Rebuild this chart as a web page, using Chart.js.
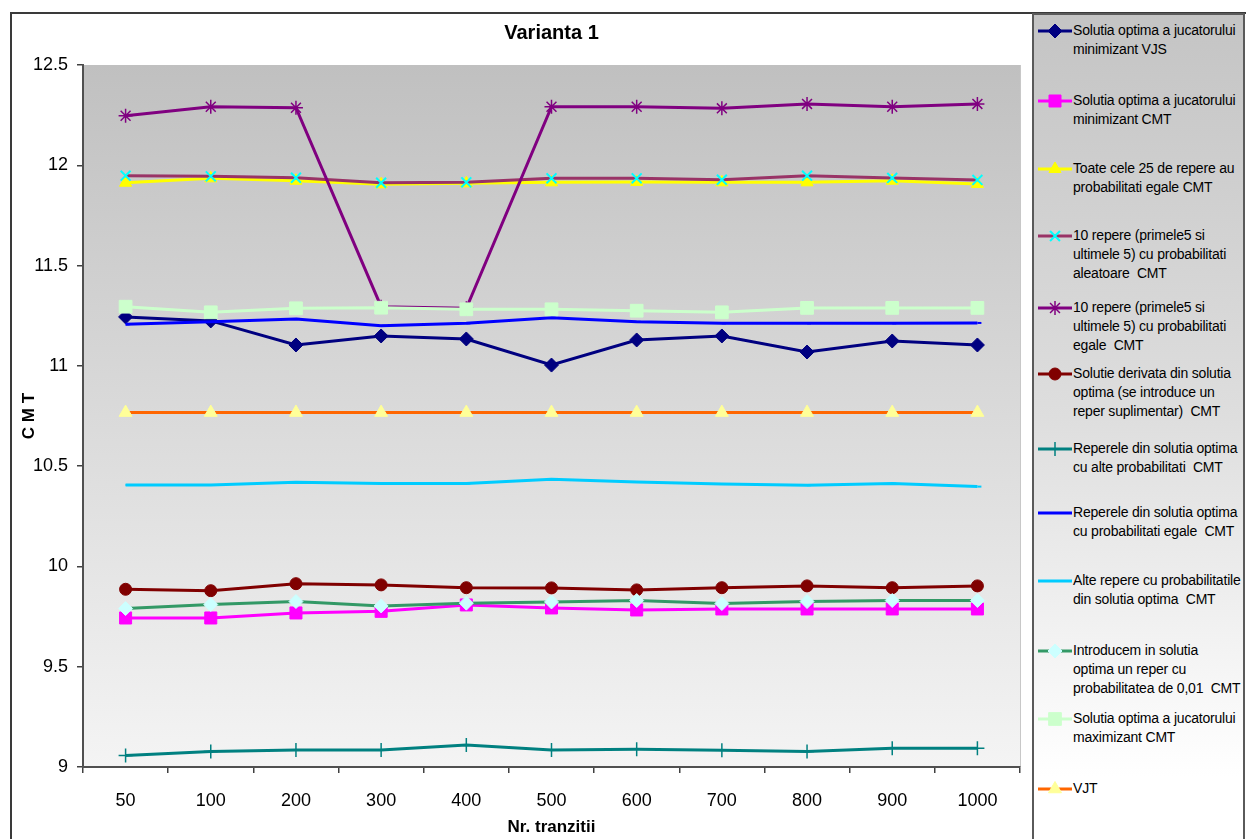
<!DOCTYPE html>
<html>
<head>
<meta charset="utf-8">
<script src="https://cdn.jsdelivr.net/npm/chart.js@4/dist/chart.umd.min.js"></script>
<style>
  body { margin: 0; width: 1246px; height: 839px; overflow: hidden; background: #fff; font-family: "Liberation Sans", Arial, sans-serif; }
  #frame { position: absolute; left: 10px; top: 12px; width: 1400px; height: 1000px; border: 2px solid #3a3a3a; box-sizing: border-box; }
  #chart { position: absolute; left: 0; top: 0; }
  #legend { position: absolute; left: 1032px; top: 13px; width: 213px; height: 900px; border: 2px solid #5a5a5a; box-sizing: border-box;
            background: linear-gradient(#c4c4c4, #dedede 45%, #ffffff 85%); }
  .item { position: absolute; left: 0; width: 230px; }
  .item canvas { position: absolute; left: 3px; top: 0; }
  .item div { position: absolute; left: 39px; top: 0; font-size: 14px; line-height: 19px; letter-spacing: -0.2px; color: #000; white-space: pre; }
</style>
</head>
<body>
<div id="frame"></div>
<canvas id="chart" width="1246" height="839"></canvas>
<div id="legend"></div>
<script>
// categories and tick labels
const categories = ['50', '100', '200', '300', '400', '500', '600', '700', '800', '900', '1000'];
const yTickValues = [9, 9.5, 10, 10.5, 11, 11.5, 12, 12.5];

// series values
const vjsMinimizant = [11.244, 11.224, 11.104, 11.149, 11.134, 11.004, 11.129, 11.149, 11.069, 11.124, 11.104];
const cmtMinimizant = [9.743, 9.743, 9.768, 9.776, 9.808, 9.793, 9.783, 9.788, 9.788, 9.788, 9.788];
const toate25Egale = [11.913, 11.935, 11.923, 11.905, 11.910, 11.915, 11.917, 11.915, 11.915, 11.923, 11.907];
const zeceAleatoare = [11.948, 11.945, 11.938, 11.913, 11.915, 11.935, 11.935, 11.928, 11.948, 11.937, 11.927];
const zeceEgale = [12.247, 12.292, 12.287, 11.295, 11.287, 12.292, 12.292, 12.284, 12.306, 12.292, 12.306];
const derivata = [9.886, 9.879, 9.914, 9.908, 9.894, 9.893, 9.883, 9.894, 9.903, 9.894, 9.903];
const alteProb = [9.057, 9.077, 9.085, 9.085, 9.110, 9.085, 9.089, 9.084, 9.077, 9.094, 9.094];
const solutieEgale = [11.207, 11.220, 11.234, 11.200, 11.212, 11.240, 11.220, 11.212, 11.212, 11.212, 11.214];
const alteRepere = [10.406, 10.406, 10.420, 10.413, 10.413, 10.435, 10.421, 10.411, 10.405, 10.413, 10.398];
const reper001 = [9.790, 9.810, 9.825, 9.803, 9.817, 9.823, 9.830, 9.815, 9.825, 9.830, 9.830];
const cmtMaximizant = [11.295, 11.267, 11.287, 11.290, 11.282, 11.282, 11.275, 11.267, 11.289, 11.289, 11.289];
const vjt = [10.767, 10.767, 10.767, 10.767, 10.767, 10.767, 10.767, 10.767, 10.767, 10.767, 10.767];

// legend text, one array of lines per series
const seriesLabels = [
  ['Solutia optima a jucatorului', 'minimizant VJS'],
  ['Solutia optima a jucatorului', 'minimizant CMT'],
  ['Toate cele 25 de repere au', 'probabilitati egale CMT'],
  ['10 repere (primele5 si', 'ultimele 5) cu probabilitati', 'aleatoare  CMT'],
  ['10 repere (primele5 si', 'ultimele 5) cu probabilitati', 'egale  CMT'],
  ['Solutie derivata din solutia', 'optima (se introduce un', 'reper suplimentar)  CMT'],
  ['Reperele din solutia optima', 'cu alte probabilitati  CMT'],
  ['Reperele din solutia optima', 'cu probabilitati egale  CMT'],
  ['Alte repere cu probabilitatile', 'din solutia optima  CMT'],
  ['Introducem in solutia', 'optima un reper cu', 'probabilitatea de 0,01  CMT'],
  ['Solutia optima a jucatorului', 'maximizant CMT'],
  ['VJT']
];
const legendTops = [19, 89, 157, 224, 296, 362, 437, 501, 569, 639, 707, 777];

// line colour, marker colour, marker style, marker radius, marker stroke
const styles = [
  ['#000080', '#000080', 'rectRot', 7, 1],
  ['#ff00ff', '#ff00ff', 'rect', 8.5, 1],
  ['#ffff00', '#ffff00', 'triangle', 7, 1],
  ['#993366', '#00ffff', 'crossRot', 7, 2],
  ['#800080', '#800080', 'star', 7, 1.5],
  ['#800000', '#800000', 'circle', 6, 1],
  ['#008080', '#008080', 'cross', 7, 1.5],
  ['#0000ff', '#0000ff', 'dash', 4, 2],
  ['#00ccff', '#00ccff', 'dash', 4, 2],
  ['#339966', '#ccffff', 'rectRot', 7, 1],
  ['#ccffcc', '#ccffcc', 'rect', 9, 1],
  ['#ff6600', '#ffff99', 'triangle', 7.5, 1]
];
const seriesData = [vjsMinimizant, cmtMinimizant, toate25Egale, zeceAleatoare, zeceEgale, derivata,
                    alteProb, solutieEgale, alteRepere, reper001, cmtMaximizant, vjt];

const datasets = seriesData.map((d, i) => ({
  label: seriesLabels[i].join(' '),
  data: d,
  borderColor: styles[i][0],
  backgroundColor: styles[i][1],
  borderWidth: 3,
  pointStyle: styles[i][2],
  pointRadius: styles[i][3],
  pointBackgroundColor: styles[i][1],
  pointBorderColor: styles[i][1],
  pointBorderWidth: styles[i][4],
  tension: 0,
  fill: false,
  order: 20 - i // later series on top, as in the original
}));

// gradient behind the plot area
const plotBackground = {
  id: 'plotBackground',
  beforeDraw(chart) {
    const {ctx, chartArea: a} = chart;
    const g = ctx.createLinearGradient(0, a.top, 0, a.bottom);
    g.addColorStop(0, '#c0c0c0');
    g.addColorStop(1, '#f4f4f4');
    ctx.save();
    ctx.fillStyle = g;
    ctx.fillRect(a.left, a.top, a.right - a.left, a.bottom - a.top);
    ctx.strokeStyle = '#c8c8c8';
    ctx.lineWidth = 1;
    ctx.beginPath();
    ctx.moveTo(a.right + 0.5, a.top);
    ctx.lineTo(a.right + 0.5, a.bottom);
    ctx.stroke();
    ctx.restore();
  }
};

const font = { family: '"Liberation Sans", Arial, sans-serif' };

new Chart(document.getElementById('chart'), {
  type: 'line',
  data: { labels: categories, datasets: datasets },
  plugins: [plotBackground],
  options: {
    responsive: false,
    devicePixelRatio: 1,
    animation: false,
    layout: { padding: { left: 0, top: 0, right: 226, bottom: 0 } },
    plugins: {
      legend: { display: false },
      tooltip: { enabled: false },
      title: {
        display: true,
        text: 'Varianta 1',
        fullSize: false,
        color: '#000',
        font: { ...font, size: 20, weight: 'bold' },
        padding: { top: 21, bottom: 20 }
      }
    },
    scales: {
      x: {
        offset: true,
        afterFit(scale) { scale.height = 72; },
        grid: { offset: true, drawOnChartArea: false, drawTicks: true, tickLength: 6, color: '#404040', lineWidth: 1.5 },
        border: { display: true, color: '#505050', width: 2 },
        ticks: { color: '#000', font: { ...font, size: 18 }, padding: 17, maxRotation: 0 },
        title: { display: true, text: 'Nr. tranzitii', color: '#000', font: { ...font, size: 17, weight: 'bold' }, padding: { top: 0, bottom: 1 } }
      },
      y: {
        min: 9,
        max: 12.5,
        afterFit(scale) { scale.width = 83; },
        afterBuildTicks(scale) { scale.ticks = yTickValues.map(v => ({ value: v })); },
        grid: { drawOnChartArea: false, drawTicks: true, tickLength: 6, color: '#404040', lineWidth: 1.5 },
        border: { display: true, color: '#505050', width: 2 },
        ticks: { color: '#000', font: { ...font, size: 18 }, padding: 9, callback: v => String(v) },
        title: { display: true, text: 'C M T', color: '#000', font: { ...font, size: 17, weight: 'bold' }, padding: { top: 19, bottom: 0 } }
      }
    }
  }
});

// HTML legend with icons drawn through Chart.js point helper
const legend = document.getElementById('legend');
seriesLabels.forEach((lines, i) => {
  const item = document.createElement('div');
  item.className = 'item';
  item.style.top = (legendTops[i] - 13) + 'px';
  const icon = document.createElement('canvas');
  icon.width = 36;
  icon.height = 20;
  const ctx = icon.getContext('2d');
  ctx.strokeStyle = styles[i][0];
  ctx.lineWidth = 3;
  ctx.beginPath();
  ctx.moveTo(1, 10);
  ctx.lineTo(35, 10);
  ctx.stroke();
  ctx.fillStyle = styles[i][1];
  ctx.strokeStyle = styles[i][1];
  ctx.lineWidth = styles[i][4];
  const pt = { pointStyle: styles[i][2], radius: styles[i][3], borderWidth: styles[i][4], rotation: 0 };
  if (Chart.helpers && Chart.helpers.drawPoint) Chart.helpers.drawPoint(ctx, pt, 18, 10);
  item.appendChild(icon);
  const text = document.createElement('div');
  text.textContent = lines.join('\n');
  item.appendChild(text);
  legend.appendChild(item);
});
</script>
</body>
</html>
